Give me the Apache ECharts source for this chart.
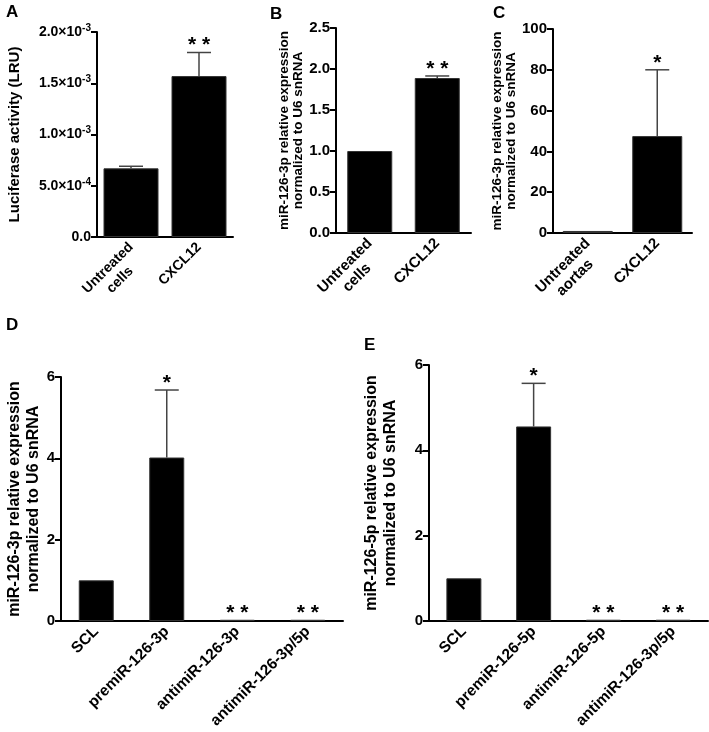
<!DOCTYPE html>
<html>
<head>
<meta charset="utf-8">
<script src="https://cdn.jsdelivr.net/npm/echarts@6/dist/echarts.min.js"></script>
<style>
html,body{margin:0;padding:0;background:#fff;}
#c{width:709px;height:732px;}
</style>
</head>
<body>
<div id="c"></div>
<script>
// ---- Data ----
const catsA = ['Untreated\ncells', 'CXCL12'];
const valsA = [0.00067, 0.00157];
const errA = [0.00002, 0.00023];
const starsA = ['', '**'];
const ticksA = ['0.0', '5.0×10^-4', '1.0×10^-3', '1.5×10^-3', '2.0×10^-3'];

const catsB = ['Untreated\ncells', 'CXCL12'];
const valsB = [1.0, 1.89];
const errB = [0, 0.025];
const starsB = ['', '**'];
const ticksB = ['0.0', '0.5', '1.0', '1.5', '2.0', '2.5'];

const catsC = ['Untreated\naortas', 'CXCL12'];
const valsC = [1.0, 47.5];
const errC = [0, 32.5];
const starsC = ['', '*'];
const ticksC = ['0', '20', '40', '60', '80', '100'];

const catsD = ['SCL', 'premiR-126-3p', 'antimiR-126-3p', 'antimiR-126-3p/5p'];
const valsD = [1.0, 4.02, 0.03, 0.03];
const errD = [0, 1.66, 0, 0];
const starsD = ['', '*', '**', '**'];
const ticksD = ['0', '2', '4', '6'];

const catsE = ['SCL', 'premiR-126-5p', 'antimiR-126-5p', 'antimiR-126-3p/5p'];
const valsE = [1.0, 4.56, 0.03, 0.03];
const errE = [0, 1.01, 0, 0];
const starsE = ['', '*', '**', '**'];
const ticksE = ['0', '2', '4', '6'];

const titleA = 'Luciferase activity (LRU)';
const titleB = 'miR-126-3p relative expression\nnormalized to U6 snRNA';
const titleC = 'miR-126-3p relative expression\nnormalized to U6 snRNA';
const titleD = 'miR-126-3p relative expression\nnormalized to U6 snRNA';
const titleE = 'miR-126-5p relative expression\nnormalized to U6 snRNA';

// ---- Build ----
const FONT = '"Liberation Sans", Arial, Helvetica, sans-serif';

const panels = [
  {letter:'A', lx:6, ly:4, cats:catsA, vals:valsA, err:errA, stars:starsA, ticks:ticksA, title:titleA,
   max:0.002, interval:0.0005, grid:{left:97, top:32, width:136, height:205}, barWidth:55,
   tickFont:14, xFont:14, titleFont:15, titleLH:17, nameGap:74},
  {letter:'B', lx:270, ly:6, cats:catsB, vals:valsB, err:errB, stars:starsB, ticks:ticksB, title:titleB,
   max:2.5, interval:0.5, grid:{left:336, top:28, width:135, height:205}, barWidth:45,
   tickFont:15, xFont:15, titleFont:13.5, titleLH:14, nameGap:29},
  {letter:'C', lx:493, ly:5, cats:catsC, vals:valsC, err:errC, stars:starsC, ticks:ticksC, title:titleC,
   max:100, interval:20, grid:{left:553, top:29, width:139, height:204}, barWidth:50,
   tickFont:15, xFont:15, titleFont:13.5, titleLH:14, nameGap:31},
  {letter:'D', lx:6, ly:317, cats:catsD, vals:valsD, err:errD, stars:starsD, ticks:ticksD, title:titleD,
   max:6, interval:2, grid:{left:61, top:377, width:282, height:244}, barWidth:35,
   tickFont:15, xFont:15.5, titleFont:16, titleLH:19, nameGap:18},
  {letter:'E', lx:364, ly:337, cats:catsE, vals:valsE, err:errE, stars:starsE, ticks:ticksE, title:titleE,
   max:6, interval:2, grid:{left:429, top:365, width:279, height:256}, barWidth:35,
   tickFont:15, xFont:15.5, titleFont:16, titleLH:19, nameGap:29}
];

const grid = [], xAxis = [], yAxis = [], series = [], graphic = [];

panels.forEach((p, k) => {
  grid.push(Object.assign({containLabel:false}, p.grid));
  xAxis.push({
    type:'category', gridIndex:k, data:p.cats,
    axisLine:{lineStyle:{color:'#000', width:2}},
    axisTick:{alignWithLabel:true, length:6, lineStyle:{color:'#000', width:2}},
    axisLabel:{
      rotate:45, margin:8, color:'#000', fontFamily:FONT, fontWeight:'bold', fontSize:p.xFont,
      formatter:function(v){
        const lines = v.split('\n');
        const body = lines.map(s => '{c|' + s + '}').join('\n');
        // keep the first line on the tick: pad with an empty line above
        return lines.length > 1 ? '{c| }\n' + body : body;
      },
      rich:{c:{align:'center', fontFamily:FONT, fontWeight:'bold', fontSize:p.xFont, color:'#000', lineHeight:17}}
    }
  });
  yAxis.push({
    type:'value', gridIndex:k, min:0, max:p.max, interval:p.interval,
    name:p.title, nameLocation:'middle', nameRotate:90, nameGap:p.nameGap,
    nameTextStyle:{color:'#000', fontFamily:FONT, fontWeight:'bold', fontSize:p.titleFont, lineHeight:p.titleLH, align:'center'},
    splitLine:{show:false},
    axisLine:{show:true, lineStyle:{color:'#000', width:2}},
    axisTick:{show:true, length:6, lineStyle:{color:'#000', width:2}},
    axisLabel:{
      margin:6, color:'#000', fontFamily:FONT, fontWeight:'bold', fontSize:p.tickFont,
      formatter:function(v, idx){
        const s = p.ticks[idx] !== undefined ? p.ticks[idx] : String(v);
        const parts = s.split('^');
        return parts.length > 1 ? '{b|' + parts[0] + '}{s|' + parts[1] + '}' : '{b|' + s + '}';
      },
      rich:{
        b:{fontFamily:FONT, fontWeight:'bold', fontSize:p.tickFont, color:'#000', lineHeight:18},
        s:{fontFamily:FONT, fontWeight:'bold', fontSize:10, color:'#000', lineHeight:10, verticalAlign:'top'}
      }
    }
  });
  series.push({
    type:'bar', xAxisIndex:k, yAxisIndex:k, data:p.vals, barWidth:p.barWidth,
    itemStyle:{color:'#000', borderColor:'#333', borderWidth:1}, silent:true, animation:false
  });
  const stars = p.stars;
  series.push({
    type:'custom', xAxisIndex:k, yAxisIndex:k, animation:false, silent:true, clip:false,
    data:p.vals.map((v, i) => [i, v, p.err[i]]),
    encode:{x:0, y:1},
    renderItem:function(params, api){
      const i = api.value(0), v = api.value(1), e = api.value(2);
      const base = api.coord([i, v]);
      const top = api.coord([i, v + e]);
      const children = [];
      if (e > 0) {
        children.push({type:'line', shape:{x1:base[0], y1:base[1], x2:top[0], y2:top[1]},
          style:{stroke:'#444', lineWidth:1.5}});
        children.push({type:'line', shape:{x1:top[0]-12, y1:top[1], x2:top[0]+12, y2:top[1]},
          style:{stroke:'#444', lineWidth:1.5}});
      }
      const st = stars[params.dataIndex];
      if (st) {
        children.push({type:'text', style:{text:st.split('').join(' '), x:top[0], y:top[1]-7, align:'center', verticalAlign:'middle',
          font:'bold 21px ' + FONT, fill:'#000'}});
      }
      return {type:'group', children:children};
    }
  });
  graphic.push({type:'text', left:p.lx, top:p.ly,
    style:{text:p.letter, font:'bold 17px ' + FONT, fill:'#000'}});
});

const chart = echarts.init(document.getElementById('c'), null, {renderer:'canvas'});
chart.setOption({
  backgroundColor:'#fff', animation:false,
  grid:grid, xAxis:xAxis, yAxis:yAxis, series:series, graphic:graphic
});
</script>
</body>
</html>
